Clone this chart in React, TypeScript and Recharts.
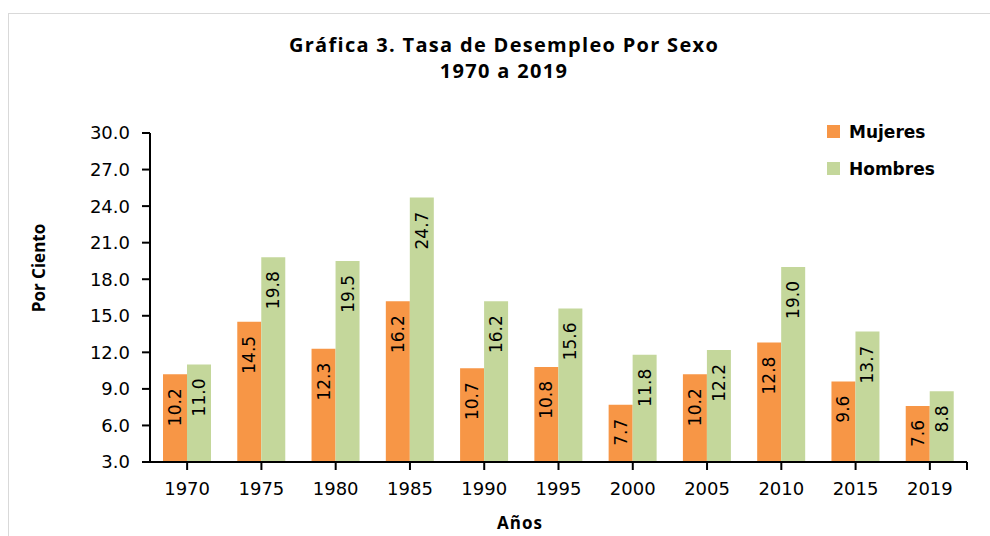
import { BarChart, Bar, XAxis, YAxis, Legend, LabelList } from 'recharts'

const years = ['1970', '1975', '1980', '1985', '1990', '1995', '2000', '2005', '2010', '2015', '2019']
const mujeres = [10.2, 14.5, 12.3, 16.2, 10.7, 10.8, 7.7, 10.2, 12.8, 9.6, 7.6]
const hombres = [11.0, 19.8, 19.5, 24.7, 16.2, 15.6, 11.8, 12.2, 19.0, 13.7, 8.8]
const yTicks = [3, 6, 9, 12, 15, 18, 21, 24, 27, 30]

const ORANGE = '#F79646'
const GREEN = '#C4D79B'
const TEXT_FONT = 'DejaVu Sans, Verdana, sans-serif'
const TITLE_FONT = 'Open Sans, Lato, sans-serif'

const data = years.map((year, i) => ({ year, mujeres: mujeres[i], hombres: hombres[i] }))

const legendItems = [
  { label: 'Mujeres', color: ORANGE },
  { label: 'Hombres', color: GREEN },
]

const X_TICK_SIZE = 8
const X_TICK_MARGIN = 12

// etiqueta vertical dentro de la barra, pegada al extremo superior
const VerticalLabel = (props: any) => {
  const { x, y, width, value } = props
  const cx = Number(x) + Number(width) / 2
  const ty = Number(y) + 14
  return (
    <text
      x={cx}
      y={ty}
      transform={`rotate(-90 ${cx} ${ty})`}
      textAnchor="end"
      dominantBaseline="central"
      fontSize={17}
      fontFamily={TEXT_FONT}
      fill="#000"
    >
      {Number(value).toFixed(1)}
    </text>
  )
}

// etiqueta del eje X; en la última categoría agrega la marca del final del eje
const YearTick = (props: any) => {
  const { x, y, payload, index } = props
  const half = Number(payload?.offset)
  const axisY = y - X_TICK_SIZE - X_TICK_MARGIN
  return (
    <g>
      <text x={x} y={y} dy="0.71em" textAnchor="middle" fontSize={18} fontFamily={TEXT_FONT} fill="#000">
        {payload.value}
      </text>
      {index === years.length - 1 && half > 0 && (
        <line x1={x + half} x2={x + half} y1={axisY} y2={axisY + X_TICK_SIZE} stroke="#000" strokeWidth={2} />
      )}
    </g>
  )
}

const CustomLegend = () => (
  <div style={{ fontFamily: TEXT_FONT, fontWeight: 'bold', fontSize: 17, color: '#000' }}>
    {legendItems.map((item) => (
      <div key={item.label} style={{ display: 'flex', alignItems: 'center', height: 37 }}>
        <span style={{ display: 'inline-block', width: 13, height: 13, background: item.color, marginRight: 9 }} />
        <span>{item.label}</span>
      </div>
    ))}
  </div>
)

export default function App() {
  return (
    <div
      style={{
        position: 'absolute',
        left: 8,
        top: 13,
        width: 990,
        height: 530,
        borderTop: '1px solid #d9d9d9',
        borderLeft: '1px solid #d9d9d9',
      }}
    >
      <style>{`html, body { overflow: hidden; }`}</style>
      <div
        style={{
          position: 'absolute',
          left: 0,
          top: 18,
          width: 990,
          textAlign: 'center',
          fontFamily: TITLE_FONT,
          fontWeight: 'bold',
          fontSize: 20,
          letterSpacing: 1.3,
          lineHeight: '26px',
          color: '#000',
        }}
      >
        <div>Gráfica 3. Tasa de Desempleo Por Sexo</div>
        <div>1970 a 2019</div>
      </div>
      <div
        style={{
          position: 'absolute',
          left: 29,
          top: 254,
          transform: 'translate(-50%, -50%) rotate(-90deg)',
          fontFamily: TITLE_FONT,
          fontWeight: 'bold',
          fontSize: 17,
          whiteSpace: 'nowrap',
          color: '#000',
        }}
      >
        Por Ciento
      </div>
      <div
        style={{
          position: 'absolute',
          left: 511,
          top: 508,
          transform: 'translate(-50%, -50%)',
          fontFamily: TITLE_FONT,
          fontWeight: 'bold',
          fontSize: 17,
          letterSpacing: 1,
          whiteSpace: 'nowrap',
          color: '#000',
        }}
      >
        Años
      </div>
      <BarChart
        width={972}
        height={514}
        data={data}
        margin={{ top: 119, right: 14, bottom: 36, left: 0 }}
        barGap={0}
        barSize={24}
      >
        <XAxis
          dataKey="year"
          height={30}
          axisLine={{ stroke: '#000', strokeWidth: 2 }}
          tickLine={{ stroke: '#000', strokeWidth: 2 }}
          tickSize={X_TICK_SIZE}
          tickMargin={X_TICK_MARGIN}
          tick={<YearTick />}
          interval={0}
        />
        <YAxis
          width={141}
          domain={[3, 30]}
          ticks={yTicks}
          interval={0}
          allowDataOverflow
          tickFormatter={(v: number) => v.toFixed(1)}
          axisLine={{ stroke: '#000', strokeWidth: 2 }}
          tickLine={{ stroke: '#000', strokeWidth: 2 }}
          tickSize={8}
          tickMargin={12}
          tick={{ fill: '#000', fontSize: 18, fontFamily: TEXT_FONT }}
        />
        <Legend
          layout="vertical"
          align="center"
          verticalAlign="middle"
          content={<CustomLegend />}
          wrapperStyle={{ left: 818, top: 99, width: 'auto', height: 'auto' }}
        />
        <Bar dataKey="mujeres" name="Mujeres" fill={ORANGE} isAnimationActive={false}>
          <LabelList dataKey="mujeres" content={<VerticalLabel />} />
        </Bar>
        <Bar dataKey="hombres" name="Hombres" fill={GREEN} isAnimationActive={false}>
          <LabelList dataKey="hombres" content={<VerticalLabel />} />
        </Bar>
      </BarChart>
    </div>
  )
}
